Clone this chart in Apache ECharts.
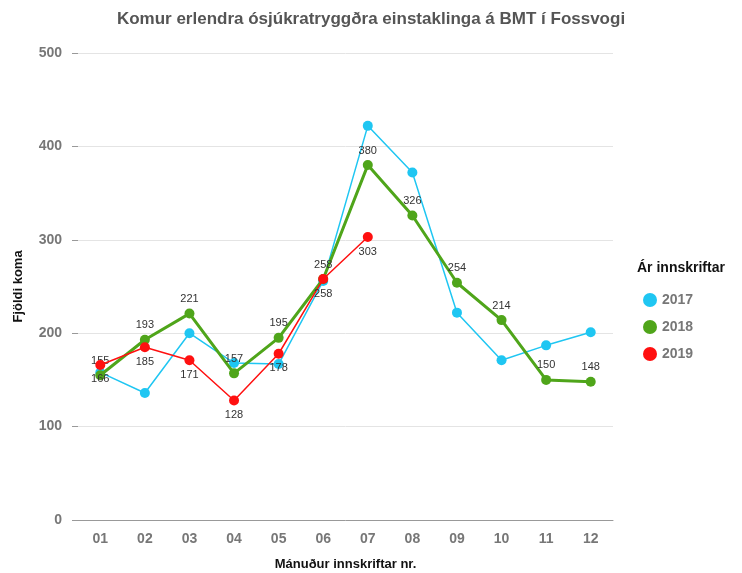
<!DOCTYPE html>
<html><head><meta charset="utf-8">
<script src="https://cdn.jsdelivr.net/npm/echarts@6/dist/echarts.min.js"></script>
<style>html,body{margin:0;padding:0;background:#fff}#c{width:742px;height:573px}</style>
</head><body><div id="c"></div>
<script>
const months = ['01','02','03','04','05','06','07','08','09','10','11','12'];
const y2017 = [158,136,200,168,167,256,422,372,222,171,187,201];
const y2018 = [155,193,221,157,195,258,380,326,254,214,150,148];
const y2019 = [166,185,171,128,178,258,303];
const yTicks = [0,100,200,300,400,500];

const font = '"Liberation Sans", Arial, sans-serif';
const chart = echarts.init(document.getElementById('c'));
chart.setOption({
  animation:false,
  title:{text:'Komur erlendra ósjúkratryggðra einstaklinga á BMT í Fossvogi',left:'center',top:6,
    textStyle:{fontFamily:font,fontSize:17,fontWeight:'bold',color:'#555'}},
  grid:{left:78,right:129,top:53,bottom:53,outerBoundsMode:'none',containLabel:false},
  legend:{orient:'vertical',left:638,top:288,itemGap:13,icon:'circle',itemWidth:14,itemHeight:14,
    textStyle:{fontFamily:font,fontSize:14,fontWeight:'bold',color:'#777'},
    data:['2017','2018','2019']},
  graphic:[{type:'text',left:637,top:261,style:{text:'Ár innskriftar',font:'bold 14px "Liberation Sans", Arial, sans-serif',fill:'#111'}}],
  xAxis:{type:'category',data:months,boundaryGap:true,
    name:'Mánuður innskriftar nr.',nameLocation:'middle',nameGap:38,
    nameTextStyle:{fontFamily:font,fontSize:13,fontWeight:'bold',color:'#111'},
    axisLine:{lineStyle:{color:'#999'}},axisTick:{alignWithLabel:true,length:5,lineStyle:{color:'#999'}},
    axisLabel:{fontFamily:font,fontSize:14,fontWeight:'bold',color:'#777',margin:12}},
  yAxis:{type:'value',min:0,max:500,interval:100,
    name:'Fjöldi koma',nameLocation:'middle',nameGap:53,
    nameTextStyle:{fontFamily:font,fontSize:13,fontWeight:'bold',color:'#111'},
    axisLine:{show:false},axisTick:{show:true,length:6,lineStyle:{color:'#999'}},
    splitLine:{lineStyle:{color:'#e4e4e4'}},
    axisLabel:{fontFamily:font,fontSize:14,fontWeight:'bold',color:'#777',margin:16,
      formatter:v=>yTicks.includes(v)?String(v):''}},
  series:[
    {name:'2017',type:'line',data:y2017,color:'#1fc6f2',symbol:'circle',symbolSize:10,
      lineStyle:{width:1.5},z:2},
    {name:'2018',type:'line',data:y2018,color:'#4fa51a',symbol:'circle',symbolSize:10,
      lineStyle:{width:3},z:3,
      label:{show:true,position:'top',distance:4,fontFamily:font,fontSize:11,color:'#333'}},
    {name:'2019',type:'line',data:y2019,color:'#ff1010',symbol:'circle',symbolSize:10,
      lineStyle:{width:1.5},z:4,
      label:{show:true,position:'bottom',distance:4,fontFamily:font,fontSize:11,color:'#333'}}
  ]
});
</script></body></html>
